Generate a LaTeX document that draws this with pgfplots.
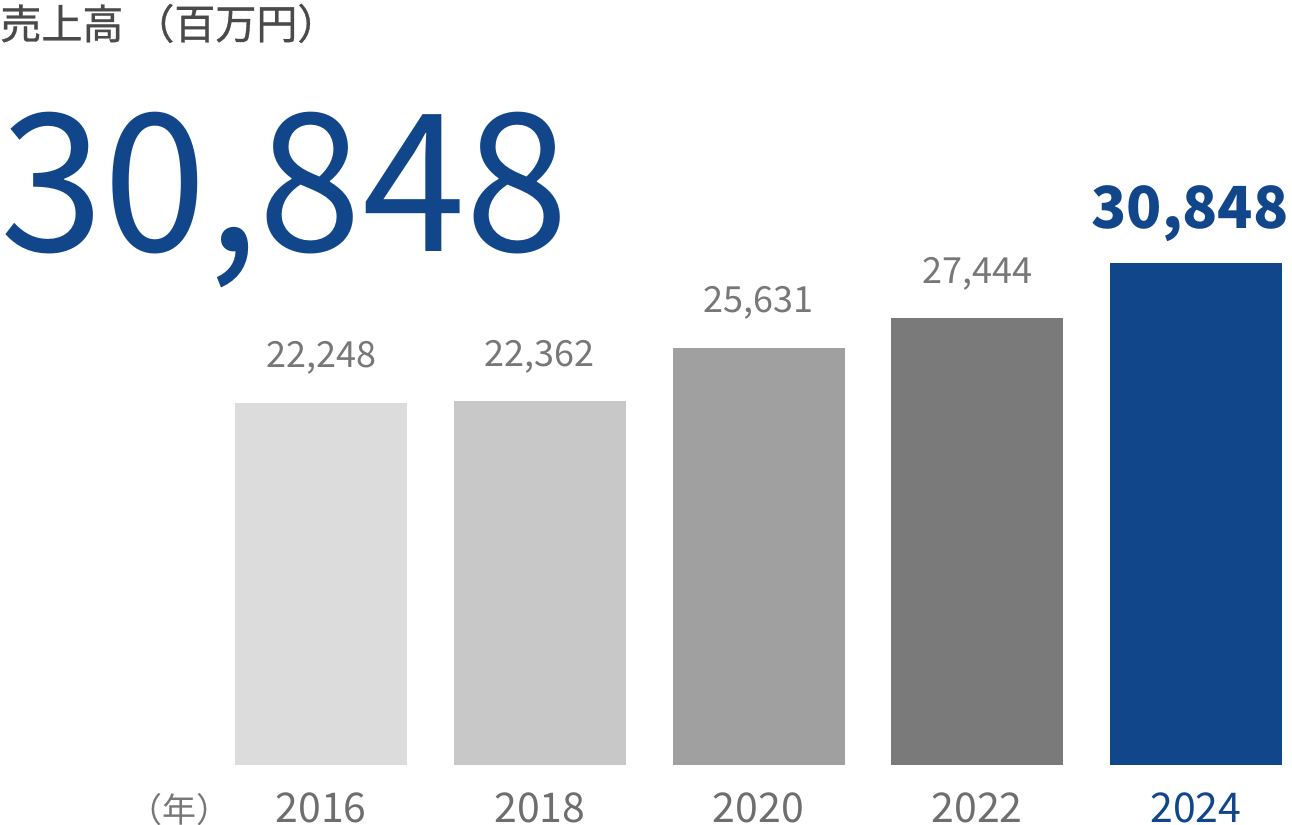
\documentclass[border=0pt]{standalone}
\usepackage{fontspec}
\setmainfont{Noto Sans CJK JP}
\newfontfamily\titlefont[FakeBold=0.8]{Noto Sans CJK JP}
\newfontfamily\bignumfont[FakeStretch=0.97]{Noto Sans CJK JP}
\usepackage{pgfplots}
\pgfplotsset{compat=1.18}

\definecolor{navy}{HTML}{12468A}
\definecolor{titlegray}{HTML}{4A4A4A}
\definecolor{labelgray}{HTML}{777777}
\definecolor{yeargray}{HTML}{6E6E6E}
\definecolor{c16}{HTML}{DCDCDC}
\definecolor{c18}{HTML}{C8C8C8}
\definecolor{c20}{HTML}{A0A0A0}
\definecolor{c22}{HTML}{7A7A7A}

\begin{document}
\begin{tikzpicture}
% canvas: 1px = 0.5pt
\node[anchor=base west, inner sep=0, text=titlegray,
      font=\fontsize{20.5pt}{22pt}\titlefont] at (0pt,393pt) {売上高\hspace{5pt}（百万円）};
\node[anchor=base west, inner sep=0, text=navy,
      font=\fontsize{96pt}{106pt}\bignumfont] at (0pt,286.5pt) {30,848};
\node[anchor=base west, inner sep=0, text=labelgray,
      font=\fontsize{17pt}{19pt}\selectfont] at (64pt,1pt) {（年）};

\begin{axis}[
    at={(117.5pt,30pt)}, anchor=south west,
    scale only axis, width=523.5pt, height=251pt,
    xmin=-0.3934, xmax=4.3934, ymin=0, ymax=30848,
    axis line style={draw=none},
    major tick length=0pt,
    ytick=\empty,
    xtick={0,1,2,3,4},
    xticklabels={2016,2018,2020,2022,\textcolor{navy}{2024}},
    xticklabel style={anchor=base, yshift=-29pt, text=yeargray,
        font=\fontsize{20.5pt}{22pt}\selectfont},
    ybar, bar width=86pt, bar shift=0pt,
    clip=false,
    /pgf/number format/.cd, 1000 sep={,}, assume math mode=true,
]
\pgfplotsset{every node near coord/.append style={anchor=base, yshift=17.5pt,
    text=labelgray, font=\fontsize{18pt}{20pt}\selectfont}}
\addplot[fill=c16, draw=none, nodes near coords] coordinates {(0,22248)};
\addplot[fill=c18, draw=none, nodes near coords] coordinates {(1,22362)};
\addplot[fill=c20, draw=none, nodes near coords] coordinates {(2,25631)};
\addplot[fill=c22, draw=none, nodes near coords] coordinates {(3,27444)};
\addplot[fill=navy, draw=none, nodes near coords,
    nodes near coords style={text=navy, yshift=-0.5pt, xshift=-3pt,
        font=\fontsize{29pt}{32pt}\selectfont\bfseries}] coordinates {(4,30848)};
\end{axis}
\pgfresetboundingbox
\path[use as bounding box] (0,0) rectangle (646pt,412.5pt);
\end{tikzpicture}
\end{document}
